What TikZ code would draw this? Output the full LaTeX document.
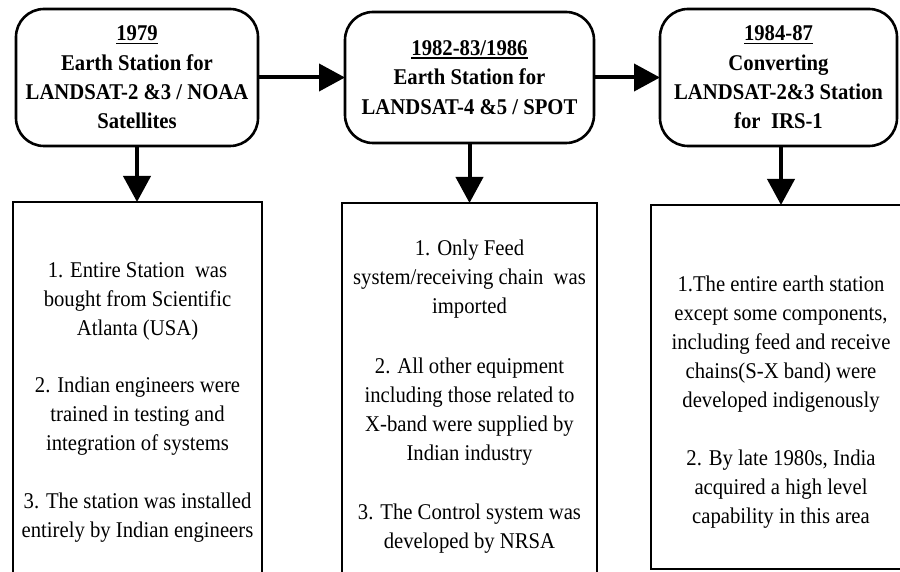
\documentclass[tikz,border=0pt]{standalone}
\usepackage{fontspec}
\setmainfont{Liberation Serif}[FakeStretch=0.92]
\usetikzlibrary{arrows.meta}
\newcommand\yearline[1]{\setbox0\hbox{#1}\rlap{\rule[-3.5pt]{\wd0}{1.8pt}}\box0}
\begin{document}
\begin{tikzpicture}[x=1pt,y=-1pt,
  headbox/.style={draw, line width=2.6pt, rounded corners=28pt, inner sep=0pt, outer sep=0pt,
    align=center, font=\bfseries\fontsize{22.5}{29.3}\selectfont},
  infobox/.style={draw, line width=2.4pt, inner sep=0pt, outer sep=0pt},
  infotext/.style={align=center, inner sep=0pt, font=\fontsize{22.5}{29}\selectfont},
  flow/.style={line width=4pt, -{Triangle[length=26pt,width=27pt]}}]
\fill[white] (0,0) rectangle (900,572);
\useasboundingbox (0,0) rectangle (900,572);
% header boxes
\node[headbox, minimum width=242pt, minimum height=137pt] (A) at (137,77.5)
  {\yearline{1979}\\Earth Station for\\LANDSAT-2 \&3 / NOAA\\Satellites};
\node[headbox, minimum width=249pt, minimum height=131pt] (B) at (469.5,77.5)
  {\yearline{1982-83/1986}\\Earth Station for\\LANDSAT-4 \&5 / SPOT};
\node[headbox, minimum width=237pt, minimum height=137pt] (C) at (778.5,77.5)
  {\yearline{1984-87}\\Converting\\LANDSAT-2\&3 Station\\for\ \ IRS-1};
% detail boxes
\node[infobox, minimum width=249pt, minimum height=396pt] (b1) at (137.5,400) {};
\node[infobox, minimum width=255pt, minimum height=386pt] (b2) at (469.5,396) {};
\node[infobox, minimum width=260pt, minimum height=364pt] (b3) at (781,387) {};
\node[infotext] (t1) at (137.5,402)
  {1. Entire Station\ \ was\\bought from Scientific\\Atlanta (USA)\\[28pt]2. Indian engineers were\\trained in testing and\\integration of systems\\[29pt]3. The station was installed\\entirely by Indian engineers};
\node[infotext] (t2) at (469.5,397)
  {1. Only Feed\\system/receiving chain\ \ was\\imported\\[31pt]2. All other equipment\\including those related to\\X-band were supplied by\\Indian industry\\[30pt]3. The Control system was\\developed by NRSA};
\node[infotext] (t3) at (781,402)
  {1.The entire earth station\\except some components,\\including feed and receive\\chains(S-X band) were\\developed indigenously\\[29pt]2. By late 1980s, India\\acquired a high level\\capability in this area};
% connectors
\draw[flow] (A) -- (B);
\draw[flow] (B) -- (C);
\draw[flow] (A.south) -- (A.south |- b1.north);
\draw[flow] (B.south) -- (B.south |- b2.north);
\coordinate (cs) at (b3.north |- C.south);
\draw[flow] (cs) -- (b3.north);
\end{tikzpicture}
\end{document}
